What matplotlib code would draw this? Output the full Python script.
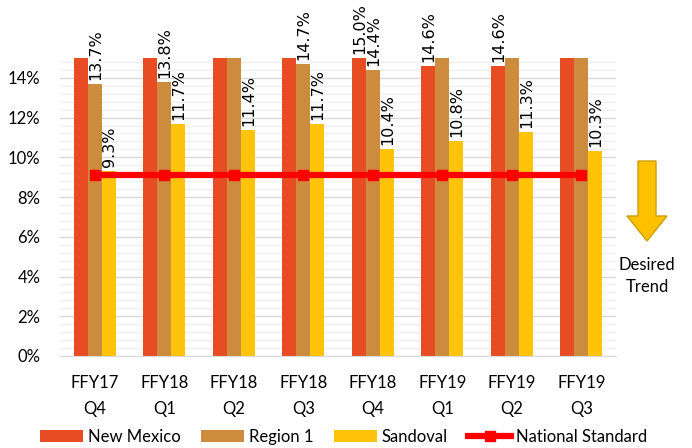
import numpy as np
import matplotlib.pyplot as plt
from matplotlib.patches import Polygon
from matplotlib.ticker import MultipleLocator, PercentFormatter

plt.rcParams["font.family"] = ["Lato", "DejaVu Sans"]

categories = ["FFY17\nQ4", "FFY18\nQ1", "FFY18\nQ2", "FFY18\nQ3",
              "FFY18\nQ4", "FFY19\nQ1", "FFY19\nQ2", "FFY19\nQ3"]
# values above 15% are cut off in the picture, so those are guesses
new_mexico = [15.8, 15.6, 15.9, 15.7, 15.0, 14.6, 14.6, 15.5]
region_1 = [13.7, 13.8, 15.6, 14.7, 14.4, 15.2, 15.4, 15.3]
sandoval = [9.3, 11.7, 11.4, 11.7, 10.4, 10.8, 11.3, 10.3]
national_standard = [9.1] * 8

colors = ["#E84C22", "#CD8B3E", "#FFC30A"]
names = ["New Mexico", "Region 1", "Sandoval"]
series = [new_mexico, region_1, sandoval]

fig = plt.figure(figsize=(6.92, 4.48), dpi=100)
ax = fig.add_axes([60 / 692, 1 - 356 / 448, 556 / 692, 298 / 448])

x = np.arange(len(categories))
w = 0.2
ymax = 15.0
handles = []
for i, (vals, c, name) in enumerate(zip(series, colors, names)):
    pos = x + (i - 1) * w
    handles.append(ax.bar(pos, vals, width=w, color=c, label=name, zorder=2))
    for p, v in zip(pos, vals):
        if v <= ymax:
            ax.text(p + 0.01, v + 0.2, f"{v:.1f}%", rotation=90, ha="center",
                    va="bottom", fontsize=11.5, family="DejaVu Sans",
                    clip_on=False)

line, = ax.plot(x, national_standard, color="#FF0000", lw=4.5, marker="s",
                markersize=7, label="National Standard", zorder=3)
handles.append(line)

ax.set_xlim(-0.5, len(categories) - 0.5)
ax.set_ylim(0, ymax)
ax.yaxis.set_major_locator(MultipleLocator(2))
ax.yaxis.set_minor_locator(MultipleLocator(0.4))
ax.yaxis.set_major_formatter(PercentFormatter(decimals=0))
ax.grid(axis="y", which="major", color="#D9D9D9", lw=1, zorder=0)
ax.grid(axis="y", which="minor", color="#EFEFEF", lw=1, zorder=0)
ax.set_xticks(x)
ax.set_xticklabels(categories, fontsize=12, linespacing=1.75)
ax.tick_params(axis="y", labelsize=12, length=0, which="both", pad=14)
ax.tick_params(axis="x", length=0, pad=14)
for s in ["top", "right", "left"]:
    ax.spines[s].set_visible(False)
ax.spines["bottom"].set_color("#D9D9D9")

ax.legend(handles=handles, loc="center", bbox_to_anchor=(0.51, -0.272),
          ncol=4, frameon=False, fontsize=12, handlelength=2.6,
          columnspacing=1.2, handletextpad=0.3)

# desired trend arrow, in pixel coordinates of the figure
px = [(638, 161), (656, 161), (656, 216), (667, 216), (647, 241),
      (627, 216), (638, 216)]
pts = [(a / 692, 1 - b / 448) for a, b in px]
fig.patches.append(Polygon(pts, closed=True, transform=fig.transFigure,
                           facecolor="#FFC000", edgecolor="#C9A000", lw=1))
fig.text(647 / 692, 1 - 276 / 448, "Desired\nTrend", ha="center",
         va="center", fontsize=12, linespacing=1.4)

fig.savefig("out.png", dpi=100)
